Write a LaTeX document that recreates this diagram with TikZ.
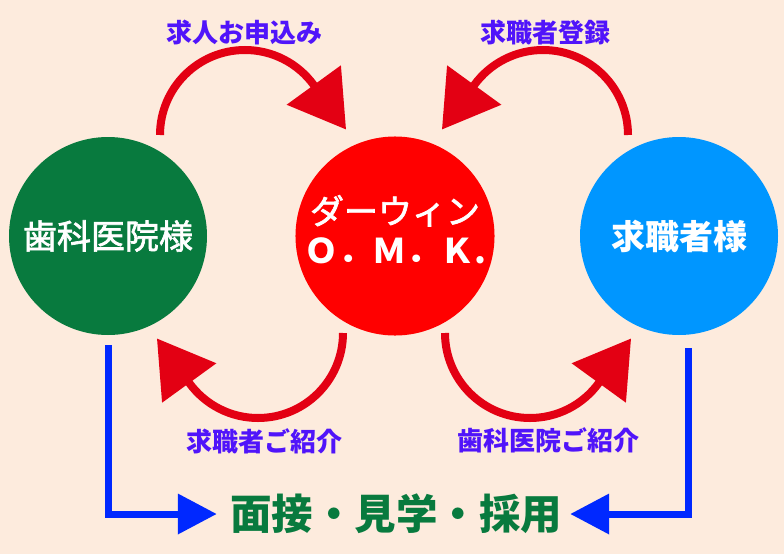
\documentclass[tikz,border=0pt]{standalone}
\usepackage{fontspec}
\setmainfont{Noto Sans CJK JP}
\newfontfamily\ballfont[FakeBold=2]{Noto Sans CJK JP}
\usepackage{tikz}
\usetikzlibrary{arrows.meta}

\definecolor{bgpeach}{RGB}{253,235,221}
\definecolor{clinicgreen}{RGB}{8,122,62}
\definecolor{omkred}{RGB}{255,0,0}
\definecolor{seekerblue}{RGB}{0,150,255}
\definecolor{arcred}{RGB}{227,0,19}
\definecolor{flowblue}{RGB}{0,40,255}
\definecolor{labelpurple}{RGB}{80,20,250}

\begin{document}
\begin{tikzpicture}[x=1pt,y=-1pt,
    ball/.style={circle, minimum size=198pt, inner sep=0pt, text=white, align=center,
        font=\ballfont\fontsize{34}{40}\selectfont},
    steplabel/.style={text=labelpurple, inner sep=0pt, font=\fontsize{26}{30}\selectfont\bfseries},
    curve/.style={draw=arcred, line width=8pt, -{Triangle[length=55pt,width=65pt]}},
    flow/.style={draw=flowblue, line width=7pt, -{Triangle[length=39pt,width=39pt]}}]
        \fill[bgpeach] (0,0) rectangle (784,554);

        \node[ball, fill=clinicgreen] (clinic) at (108,236) {歯科医院様};
        \node[ball, fill=omkred, text depth=13pt] (omk) at (395,236)
            {ダーウィン\\\normalfont\bfseries Ｏ．Ｍ．Ｋ.};
        \node[ball, fill=seekerblue, font=\fontsize{34}{40}\selectfont\bfseries] (seeker) at (679,236) {求職者様};

        \node[steplabel] (apply) at (244,33) {求人お申込み};
        \node[steplabel] (entry) at (545,33) {求職者登録};
        \node[steplabel] (introseeker) at (264,441) {求職者ご紹介};
        \node[steplabel] (introclinic) at (548,440) {歯科医院ご紹介};

        \node[text=clinicgreen, inner sep=0pt, font=\fontsize{41.5}{44}\selectfont\bfseries]
            (goal) at (396,514) {面接・見学・採用};

        \coordinate (applyS) at (160,135);
        \coordinate (entryS) at (628,135);
        \coordinate (seekerS) at (343,333);
        \coordinate (clinicS) at (445,333);

        % half circles, then a short straight run under the tip
        \draw[curve] (applyS) arc[start angle=180, end angle=324, radius=85] -- ++(32.3,44.5);
        \draw[curve] (entryS) arc[start angle=0, end angle=-144, radius=85] -- ++(-32.3,44.5);
        \draw[curve] (seekerS) arc[start angle=0, end angle=144, radius=85] -- ++(-32.3,-44.5);
        \draw[curve] (clinicS) arc[start angle=180, end angle=36, radius=85] -- ++(32.3,-44.5);

        \draw[flow, shorten <=10pt, shorten >=13pt] (clinic.south) |- (goal.west);
        \draw[flow, shorten <=13pt, shorten >=8pt] ([xshift=9pt]seeker.south) |- (goal.east);
    \end{tikzpicture}
\end{document}
